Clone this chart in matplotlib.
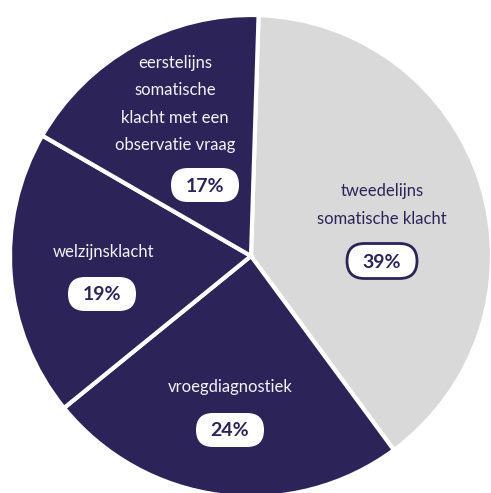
import matplotlib.pyplot as plt
from matplotlib.patches import FancyBboxPatch

# data
categories = ["tweedelijns\nsomatische klacht",
              "vroegdiagnostiek",
              "welzijnsklacht",
              "eerstelijns\nsomatische\nklacht met een\nobservatie vraag"]
shares = [39, 24, 19, 17]
pct_labels = ["39%", "24%", "19%", "17%"]

NAVY = "#2c2459"
GREY = "#d9d9d9"
colors = [GREY, NAVY, NAVY, NAVY]

# label layout (pixel coords, y down): text centre, badge centre
text_pos = [(382, 205), (230, 387), (103, 252), (175, 104)]
badge_pos = [(382, 261), (230, 430), (102, 294), (205, 185)]

plt.rcParams['font.family'] = ['Lato', 'DejaVu Sans']

fig = plt.figure(figsize=(4.91, 4.93), dpi=100)
ax = fig.add_axes([0, 0, 1, 1])

ax.pie(shares, colors=colors, center=(251, 256), radius=241,
       startangle=271.8, counterclock=True,
       wedgeprops=dict(edgecolor="white", linewidth=3))

ax.set_xlim(0, 491)
ax.set_ylim(493, 0)
ax.set_aspect("equal")
ax.axis("off")

for i, (lab, pct) in enumerate(zip(categories, pct_labels)):
    tc = NAVY if colors[i] == GREY else "#f4f3f8"
    tx, ty = text_pos[i]
    ax.text(tx, ty, lab, ha="center", va="center", color=tc,
            fontsize=12, linespacing=1.85)

    bx, by = badge_pos[i]
    w, h = (70, 35) if i == 0 else (68, 34)
    pill = FancyBboxPatch((bx - w / 2, by - h / 2), w, h,
                          boxstyle=f"round,pad=0,rounding_size={h / 2}",
                          facecolor="white",
                          edgecolor=NAVY if i == 0 else "white",
                          linewidth=2 if i == 0 else 0, zorder=3)
    ax.add_patch(pill)
    ax.text(bx, by + 1, pct, ha="center", va="center", color=NAVY,
            fontsize=14, fontweight="bold", zorder=4)

fig.savefig("out.png", dpi=100)
